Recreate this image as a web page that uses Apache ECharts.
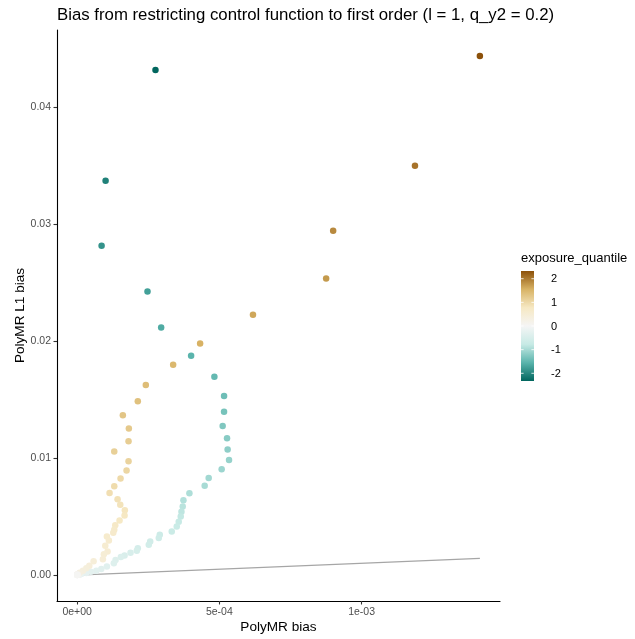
<!DOCTYPE html>
<html>
<head>
<meta charset="utf-8">
<script src="https://cdn.jsdelivr.net/npm/echarts@6/dist/echarts.min.js"></script>
<style>
  html, body { margin: 0; padding: 0; background: #ffffff; }
  #chart { width: 635px; height: 639px; }
</style>
</head>
<body>
<div id="chart"></div>
<script>
// Points with exposure quantile above zero (brown side), from the top quantile down
const upperX = [0.0014158, 0.0011877, 0.0009000, 0.0008754, 0.0006182, 0.0004323, 0.0003375, 0.0002414,
  0.0002133, 0.0001607, 0.0001818, 0.0001807, 0.0001305, 0.0001807, 0.0001737, 0.0001526, 0.0001305,
  0.0001140, 0.0001421, 0.0001516, 0.0001677, 0.0001667, 0.0001491, 0.0001340, 0.0001305, 0.0001270,
  0.0001046, 0.0001116, 0.0000989, 0.0001070, 0.0000940, 0.0000905, 0.0000579, 0.0000428, 0.0000323,
  0.0000204, 0.0000088, 0.0000028, 0.0000024, 0.0000020, 0.0000017, 0.0000014, 0.0000011, 0.0000009,
  0.0000007, 0.0000005, 0.0000003, 0.0000002, 0.0000001];
const upperY = [0.04435, 0.03497, 0.02942, 0.02533, 0.02223, 0.01979, 0.01797, 0.01623,
  0.01484, 0.01365, 0.01251, 0.01143, 0.01055, 0.00972, 0.00893, 0.00825, 0.00759,
  0.00702, 0.00648, 0.00600, 0.00554, 0.00509, 0.00467, 0.00426, 0.00386, 0.00361,
  0.00330, 0.00296, 0.00250, 0.00202, 0.00177, 0.00136, 0.00117, 0.00079, 0.00057,
  0.00037, 0.00020, 0.00006, 0.00005, 0.000045, 0.00004, 0.000035, 0.00003, 0.000025,
  0.00002, 0.000015, 0.00001, 0.000006, 0.000003];
const upperQ = [2.326, 2.054, 1.881, 1.751, 1.645, 1.555, 1.476, 1.405,
  1.341, 1.282, 1.227, 1.175, 1.126, 1.080, 1.036, 0.994, 0.954,
  0.915, 0.878, 0.842, 0.806, 0.772, 0.739, 0.706, 0.674, 0.643,
  0.613, 0.583, 0.553, 0.524, 0.496, 0.468, 0.440, 0.412, 0.385,
  0.358, 0.332, 0.305, 0.279, 0.253, 0.228, 0.202, 0.176, 0.151,
  0.126, 0.100, 0.075, 0.050, 0.025];

// Points with exposure quantile below zero (teal side), from the bottom quantile up
const lowerX = [0.0002754, 0.0001000, 0.0000860, 0.0002474, 0.0002954, 0.0004007, 0.0004825, 0.0005165,
  0.0005165, 0.0005116, 0.0005270, 0.0005291, 0.0005340, 0.0005081, 0.0004625, 0.0004484, 0.0003947,
  0.0003737, 0.0003712, 0.0003667, 0.0003642, 0.0003572, 0.0003502, 0.0003326, 0.0002905, 0.0002870,
  0.0002568, 0.0002519, 0.0002133, 0.0002098, 0.0001877, 0.0001667, 0.0001537, 0.0001351, 0.0001291,
  0.0001046, 0.0000849, 0.0000674, 0.0000474, 0.0000323, 0.0000147, 0.0000110, 0.0000090, 0.0000070,
  0.0000050, 0.0000040, 0.0000030, 0.0000020, 0.0000010, 0.0];
const lowerY = [0.04316, 0.03369, 0.02814, 0.02422, 0.02115, 0.01874, 0.01695, 0.01529,
  0.01396, 0.01273, 0.01168, 0.01072, 0.00983, 0.00904, 0.00830, 0.00762, 0.00699,
  0.00640, 0.00586, 0.00540, 0.00501, 0.00455, 0.00415, 0.00373, 0.00344, 0.00316,
  0.00287, 0.00258, 0.00230, 0.00207, 0.00190, 0.00168, 0.00154, 0.00128, 0.00100,
  0.00074, 0.00051, 0.00037, 0.00028, 0.00017, 0.00009, 0.00007, 0.00006, 0.00005,
  0.00004, 0.00003, 0.00002, 0.000015, 0.00001, 0.0];
const lowerQ = [-2.326, -2.054, -1.881, -1.751, -1.645, -1.555, -1.476, -1.405,
  -1.341, -1.282, -1.227, -1.175, -1.126, -1.080, -1.036, -0.994, -0.954,
  -0.915, -0.878, -0.842, -0.806, -0.772, -0.739, -0.706, -0.674, -0.643,
  -0.613, -0.583, -0.553, -0.524, -0.496, -0.468, -0.440, -0.412, -0.385,
  -0.358, -0.332, -0.305, -0.279, -0.253, -0.228, -0.202, -0.176, -0.151,
  -0.126, -0.100, -0.075, -0.050, -0.025, 0.0];

// Reference line y = x across the range of PolyMR bias
const refLine = [[0, 0], [0.0014158, 0.0014158]];

const xTicks = [0, 0.0005, 0.001];
const xTickLabels = ['0e+00', '5e-04', '1e-03'];
const yTicks = [0, 0.01, 0.02, 0.03, 0.04];
const yTickLabels = ['0.00', '0.01', '0.02', '0.03', '0.04'];
const legendTicks = [2, 1, 0, -1, -2];

// BrBG diverging palette, low (teal) to high (brown)
const brbg = ['#01665E', '#5AB4AC', '#C7EAE5', '#F5F5F5', '#F6E8C3', '#D8B365', '#8C510A'];
const qMin = -2.326, qMax = 2.326;

const points = lowerX.map((x, i) => [x, lowerY[i], lowerQ[i]])
  .concat(upperX.map((x, i) => [x, upperY[i], upperQ[i]]));

// ggplot-style 5% expansion of the data range
function expand(vals) {
  const lo = Math.min(...vals), hi = Math.max(...vals);
  const pad = (hi - lo) * 0.05;
  return [lo - pad, hi + pad];
}
const xRange = expand(lowerX.concat(upperX));
const yRange = expand(lowerY.concat(upperY));

const FONT = 'Liberation Sans, Arial, Helvetica, sans-serif';

// Colour bar geometry
const bar = { x: 521, y: 271, w: 13, h: 110 };
const valToBarY = v => bar.y + (qMax - v) / (qMax - qMin) * bar.h;

const legendGraphics = [
  {
    type: 'text', left: 521, top: 252,
    style: { text: 'exposure_quantile', font: '13px ' + FONT, fill: '#000000' }
  },
  {
    type: 'rect',
    shape: { x: bar.x, y: bar.y, width: bar.w, height: bar.h },
    style: {
      fill: new echarts.graphic.LinearGradient(0, 0, 0, 1,
        brbg.slice().reverse().map((c, i) => ({ offset: i / (brbg.length - 1), color: c })))
    }
  }
];
legendTicks.forEach((v) => {
  const yy = valToBarY(v);
  legendGraphics.push(
    { type: 'line', shape: { x1: bar.x, y1: yy, x2: bar.x + 2.6, y2: yy }, style: { stroke: '#ffffff', lineWidth: 1, opacity: 0.8 } },
    { type: 'line', shape: { x1: bar.x + bar.w - 2.6, y1: yy, x2: bar.x + bar.w, y2: yy }, style: { stroke: '#ffffff', lineWidth: 1, opacity: 0.8 } },
    {
      type: 'text', x: bar.x + bar.w + 17, y: yy + 0.5,
      style: { text: String(v), font: '11px ' + FONT, fill: '#000000', align: 'left', verticalAlign: 'middle' }
    }
  );
});

const chart = echarts.init(document.getElementById('chart'), null, { renderer: 'canvas' });
chart.setOption({
  animation: false,
  backgroundColor: '#ffffff',
  textStyle: { fontFamily: FONT },
  title: {
    text: 'Bias from restricting control function to first order (l = 1, q_y2 = 0.2)',
    left: 57, top: 7, padding: 0,
    textStyle: { fontSize: 16.8, fontWeight: 'normal', color: '#000000', fontFamily: FONT }
  },
  grid: { left: 57, right: 135, top: 30, bottom: 38, containLabel: false },
  xAxis: {
    type: 'value',
    min: xRange[0], max: xRange[1],
    name: 'PolyMR bias',
    nameLocation: 'middle', nameGap: 19, nameMoveOverlap: false,
    nameTextStyle: { fontSize: 13.6, color: '#000000', fontFamily: FONT },
    axisLine: { show: true, onZero: false, lineStyle: { color: '#000000', width: 1.1 } },
    axisTick: { show: true, length: 3.5, customValues: xTicks, lineStyle: { color: '#333333', width: 1.1 } },
    axisLabel: {
      customValues: xTicks, margin: 6, fontSize: 10.5, color: '#4D4D4D', fontFamily: FONT,
      formatter: v => xTickLabels[xTicks.findIndex(t => Math.abs(t - v) < 1e-9)] || ''
    },
    splitLine: { show: false }
  },
  yAxis: {
    type: 'value',
    min: yRange[0], max: yRange[1],
    name: 'PolyMR L1 bias',
    nameLocation: 'middle', nameGap: 30, nameRotate: 90, nameMoveOverlap: false,
    nameTextStyle: { fontSize: 13.6, color: '#000000', fontFamily: FONT },
    axisLine: { show: true, onZero: false, lineStyle: { color: '#000000', width: 1.1 } },
    axisTick: { show: true, length: 3.5, customValues: yTicks, lineStyle: { color: '#333333', width: 1.1 } },
    axisLabel: {
      customValues: yTicks, margin: 6, fontSize: 10.5, color: '#4D4D4D', fontFamily: FONT,
      formatter: v => yTickLabels[yTicks.findIndex(t => Math.abs(t - v) < 1e-9)] || ''
    },
    splitLine: { show: false }
  },
  visualMap: {
    show: false,
    type: 'continuous',
    seriesIndex: 1,
    dimension: 2,
    min: qMin, max: qMax,
    inRange: { color: brbg }
  },
  series: [
    {
      type: 'line',
      data: refLine,
      symbol: 'none',
      lineStyle: { color: '#A6A6A6', width: 1.2 },
      silent: true,
      z: 1
    },
    {
      type: 'scatter',
      data: points,
      symbolSize: 6.5,
      itemStyle: { opacity: 1 },
      z: 2
    }
  ],
  graphic: legendGraphics
});
</script>
</body>
</html>
